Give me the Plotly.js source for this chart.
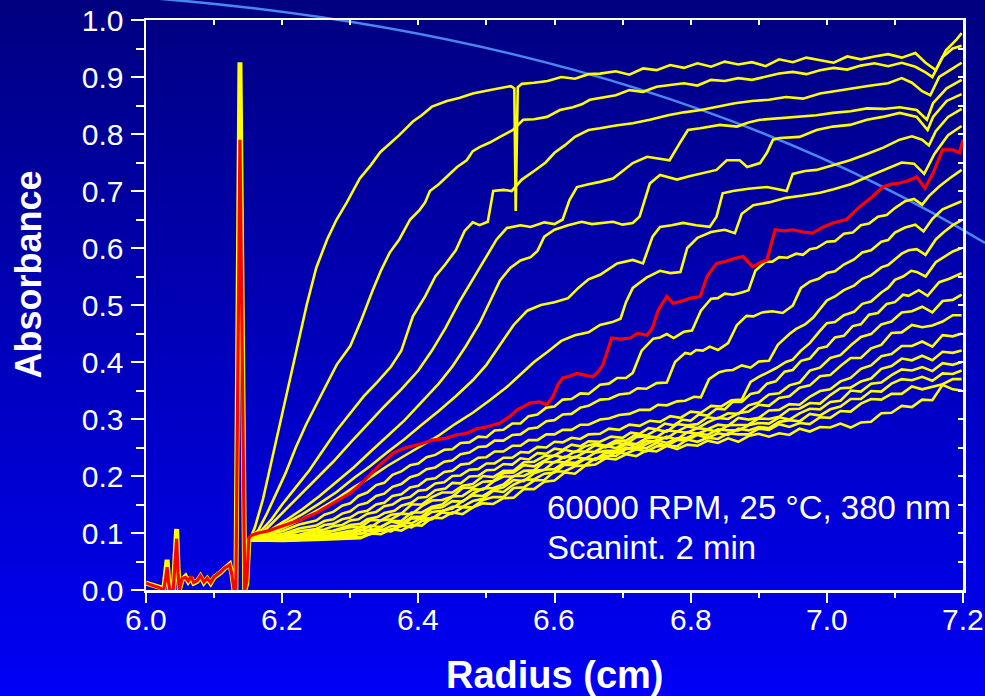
<!DOCTYPE html>
<html><head><meta charset="utf-8">
<script src="https://cdn.plot.ly/plotly-3.0.1.min.js"></script>
<style>
html,body{margin:0;padding:0;width:985px;height:696px;overflow:hidden;background:linear-gradient(to bottom,#000080 0%,#0000f6 100%);}
#wrap{position:relative;width:985px;height:696px;}
#arc{position:absolute;left:0;top:0;}
#chart{position:absolute;left:0;top:0;width:985px;height:696px;}
</style></head><body>
<div id="wrap">
<svg id="arc" width="985" height="696"><path d="M150 -2 Q642 37 985 243" stroke="#4a86f0" stroke-width="2.5" fill="none"/></svg>
<div id="chart"></div></div>
<script>
// Meniscus region (shared by all scans)
const menX = [6.000,6.006,6.012,6.018,6.022,6.026,6.029,6.031,6.033,6.035,6.040,6.043,6.045,6.047,6.049,6.053,6.058,6.062,6.066,6.070,6.075,6.080,6.085,6.090,6.095,6.100,6.105,6.110,6.115,6.119,6.123,6.126,6.129,6.132,6.138,6.145,6.148,6.151,6.153];
const menYellow = [0.012,0.010,0.008,0.006,0.004,0.000,0.030,0.053,0.020,0.000,0.000,0.060,0.107,0.040,0.000,0.018,0.024,0.015,0.022,0.012,0.015,0.024,0.013,0.020,0.012,0.022,0.026,0.031,0.037,0.040,0.045,0.030,0.002,0.000,0.926,0.000,0.010,0.085,0.090];
const menRed = [0.012,0.009,0.007,0.005,0.003,0.000,0.022,0.040,0.015,0.000,0.000,0.050,0.090,0.030,0.000,0.020,0.022,0.016,0.024,0.013,0.016,0.025,0.014,0.021,0.013,0.023,0.027,0.032,0.038,0.041,0.044,0.028,0.002,0.000,0.790,0.000,0.015,0.090,0.095];

// Early scans (radius cm, absorbance)
const scan01 = [[6.153,0.090],[6.160,0.110],[6.172,0.160],[6.185,0.230],[6.197,0.290],[6.210,0.360],[6.222,0.425],[6.236,0.500],[6.250,0.565],[6.266,0.615],[6.280,0.650],[6.295,0.680],[6.314,0.722],[6.330,0.745],[6.344,0.768],[6.360,0.785],[6.372,0.798],[6.392,0.822],[6.405,0.833],[6.420,0.848],[6.442,0.858],[6.460,0.863],[6.480,0.871],[6.500,0.876],[6.520,0.880],[6.536,0.884],[6.541,0.880],[6.543,0.665],[6.546,0.882],[6.552,0.888],[6.570,0.890],[6.590,0.893],[6.610,0.900],[6.630,0.897],[6.650,0.905],[6.667,0.906],[6.690,0.910],[6.710,0.904],[6.730,0.915],[6.750,0.912],[6.770,0.921],[6.790,0.916],[6.810,0.924],[6.830,0.918],[6.850,0.927],[6.870,0.922],[6.890,0.926],[6.910,0.919],[6.930,0.931],[6.950,0.926],[6.970,0.934],[6.990,0.929],[7.010,0.925],[7.030,0.936],[7.050,0.931],[7.070,0.936],[7.090,0.940],[7.110,0.934],[7.130,0.942],[7.145,0.925],[7.160,0.912],[7.175,0.947],[7.190,0.965],[7.198,0.977]];
const scan02 = [[6.153,0.090],[6.165,0.105],[6.178,0.135],[6.190,0.165],[6.205,0.205],[6.220,0.250],[6.235,0.290],[6.250,0.325],[6.265,0.360],[6.280,0.395],[6.300,0.428],[6.315,0.470],[6.333,0.526],[6.345,0.560],[6.358,0.592],[6.372,0.615],[6.388,0.650],[6.402,0.667],[6.410,0.680],[6.417,0.700],[6.430,0.712],[6.442,0.725],[6.457,0.742],[6.471,0.754],[6.480,0.770],[6.490,0.777],[6.505,0.785],[6.520,0.795],[6.539,0.807],[6.554,0.825],[6.570,0.826],[6.589,0.830],[6.608,0.842],[6.627,0.847],[6.640,0.852],[6.652,0.860],[6.667,0.863],[6.690,0.868],[6.710,0.877],[6.730,0.874],[6.750,0.883],[6.770,0.886],[6.790,0.889],[6.810,0.885],[6.830,0.895],[6.850,0.893],[6.870,0.898],[6.890,0.895],[6.910,0.900],[6.930,0.906],[6.950,0.909],[6.970,0.905],[6.990,0.912],[7.010,0.916],[7.030,0.913],[7.050,0.920],[7.070,0.924],[7.090,0.919],[7.110,0.925],[7.130,0.918],[7.145,0.908],[7.155,0.900],[7.170,0.935],[7.185,0.950],[7.198,0.955]];
const scan03 = [[6.153,0.090],[6.170,0.105],[6.185,0.125],[6.200,0.150],[6.220,0.180],[6.240,0.210],[6.260,0.245],[6.280,0.280],[6.300,0.310],[6.320,0.340],[6.340,0.365],[6.360,0.392],[6.375,0.420],[6.392,0.480],[6.410,0.515],[6.425,0.550],[6.440,0.572],[6.455,0.596],[6.468,0.630],[6.480,0.645],[6.490,0.640],[6.502,0.646],[6.510,0.700],[6.525,0.702],[6.537,0.700],[6.552,0.720],[6.570,0.735],[6.587,0.750],[6.600,0.767],[6.615,0.780],[6.630,0.795],[6.650,0.807],[6.667,0.810],[6.690,0.815],[6.715,0.819],[6.740,0.825],[6.767,0.833],[6.790,0.838],[6.815,0.842],[6.840,0.848],[6.865,0.854],[6.890,0.858],[6.915,0.860],[6.940,0.865],[6.965,0.862],[6.990,0.871],[7.015,0.876],[7.040,0.880],[7.065,0.885],[7.090,0.889],[7.110,0.898],[7.125,0.890],[7.140,0.875],[7.152,0.868],[7.165,0.900],[7.185,0.915],[7.198,0.925]];
const scan04 = [[6.153,0.090],[6.175,0.105],[6.200,0.135],[6.225,0.165],[6.250,0.195],[6.275,0.225],[6.300,0.258],[6.325,0.290],[6.350,0.322],[6.375,0.352],[6.400,0.385],[6.420,0.420],[6.440,0.460],[6.460,0.505],[6.480,0.545],[6.500,0.585],[6.515,0.615],[6.530,0.635],[6.550,0.640],[6.565,0.637],[6.585,0.645],[6.600,0.642],[6.612,0.650],[6.622,0.684],[6.633,0.707],[6.650,0.712],[6.667,0.716],[6.686,0.722],[6.700,0.735],[6.715,0.749],[6.736,0.760],[6.752,0.757],[6.769,0.754],[6.784,0.784],[6.796,0.807],[6.814,0.810],[6.843,0.816],[6.868,0.813],[6.885,0.820],[6.902,0.825],[6.931,0.828],[6.960,0.830],[6.985,0.833],[7.009,0.837],[7.035,0.840],[7.059,0.845],[7.083,0.844],[7.107,0.847],[7.132,0.842],[7.147,0.825],[7.156,0.854],[7.176,0.880],[7.198,0.895]];
const scan05 = [[6.153,0.090],[6.180,0.103],[6.205,0.122],[6.230,0.142],[6.255,0.165],[6.280,0.190],[6.305,0.215],[6.330,0.243],[6.355,0.270],[6.380,0.298],[6.405,0.330],[6.430,0.362],[6.450,0.392],[6.470,0.428],[6.490,0.468],[6.505,0.505],[6.520,0.543],[6.535,0.565],[6.550,0.578],[6.565,0.584],[6.575,0.595],[6.585,0.620],[6.600,0.632],[6.620,0.640],[6.640,0.646],[6.655,0.642],[6.667,0.644],[6.686,0.646],[6.700,0.641],[6.715,0.644],[6.725,0.655],[6.736,0.700],[6.740,0.713],[6.755,0.728],[6.768,0.724],[6.780,0.720],[6.798,0.726],[6.814,0.730],[6.838,0.737],[6.853,0.754],[6.872,0.754],[6.883,0.742],[6.902,0.749],[6.912,0.767],[6.921,0.790],[6.931,0.793],[6.960,0.795],[6.985,0.807],[7.009,0.813],[7.034,0.816],[7.059,0.825],[7.082,0.830],[7.107,0.837],[7.132,0.830],[7.148,0.807],[7.156,0.830],[7.176,0.858],[7.198,0.870]];
const scan06 = [[6.153,0.090],[6.180,0.100],[6.205,0.117],[6.230,0.133],[6.255,0.152],[6.280,0.172],[6.305,0.196],[6.330,0.218],[6.355,0.242],[6.380,0.265],[6.405,0.290],[6.430,0.314],[6.455,0.340],[6.480,0.368],[6.500,0.395],[6.520,0.430],[6.540,0.465],[6.560,0.490],[6.580,0.500],[6.600,0.505],[6.620,0.512],[6.635,0.530],[6.650,0.545],[6.667,0.553],[6.692,0.573],[6.715,0.579],[6.730,0.573],[6.744,0.620],[6.755,0.637],[6.772,0.640],[6.789,0.644],[6.808,0.640],[6.828,0.637],[6.838,0.655],[6.847,0.696],[6.862,0.700],[6.885,0.704],[6.912,0.707],[6.930,0.702],[6.941,0.700],[6.950,0.730],[6.968,0.735],[6.985,0.737],[7.009,0.745],[7.034,0.754],[7.059,0.765],[7.083,0.776],[7.107,0.790],[7.125,0.796],[7.140,0.790],[7.150,0.780],[7.160,0.805],[7.178,0.830],[7.198,0.844]];
const scan07 = [[6.153,0.090],[6.180,0.098],[6.205,0.111],[6.230,0.125],[6.255,0.142],[6.280,0.160],[6.305,0.180],[6.330,0.198],[6.355,0.218],[6.380,0.236],[6.405,0.253],[6.430,0.271],[6.455,0.292],[6.480,0.311],[6.505,0.333],[6.530,0.356],[6.550,0.378],[6.570,0.400],[6.590,0.418],[6.610,0.437],[6.630,0.447],[6.650,0.452],[6.667,0.465],[6.685,0.470],[6.697,0.476],[6.705,0.505],[6.715,0.530],[6.735,0.548],[6.755,0.560],[6.770,0.556],[6.785,0.558],[6.795,0.600],[6.810,0.618],[6.830,0.628],[6.850,0.632],[6.865,0.626],[6.875,0.660],[6.892,0.675],[6.915,0.680],[6.940,0.688],[6.965,0.692],[6.990,0.697],[7.010,0.703],[7.035,0.712],[7.060,0.725],[7.085,0.738],[7.110,0.750],[7.128,0.748],[7.143,0.730],[7.158,0.765],[7.178,0.798],[7.198,0.814]];
const scanRed = [[6.153,0.095],[6.165,0.100],[6.180,0.104],[6.200,0.112],[6.226,0.123],[6.250,0.135],[6.275,0.152],[6.300,0.170],[6.312,0.182],[6.325,0.198],[6.344,0.220],[6.363,0.240],[6.380,0.249],[6.400,0.255],[6.421,0.263],[6.440,0.266],[6.455,0.272],[6.471,0.275],[6.486,0.283],[6.500,0.286],[6.520,0.293],[6.535,0.305],[6.545,0.316],[6.555,0.322],[6.564,0.328],[6.578,0.330],[6.589,0.325],[6.598,0.340],[6.605,0.360],[6.612,0.372],[6.622,0.375],[6.633,0.380],[6.645,0.377],[6.656,0.374],[6.665,0.384],[6.671,0.395],[6.678,0.420],[6.684,0.442],[6.697,0.440],[6.711,0.442],[6.722,0.450],[6.736,0.447],[6.744,0.460],[6.752,0.490],[6.765,0.515],[6.774,0.503],[6.785,0.506],[6.800,0.512],[6.814,0.515],[6.824,0.550],[6.838,0.573],[6.850,0.576],[6.865,0.582],[6.877,0.585],[6.891,0.567],[6.903,0.575],[6.912,0.579],[6.924,0.632],[6.937,0.630],[6.950,0.632],[6.965,0.628],[6.979,0.626],[6.995,0.637],[7.009,0.644],[7.029,0.650],[7.048,0.672],[7.065,0.688],[7.082,0.707],[7.095,0.712],[7.107,0.714],[7.120,0.718],[7.132,0.725],[7.144,0.705],[7.156,0.731],[7.170,0.772],[7.185,0.772],[7.195,0.767],[7.200,0.790]];
const scan09 = [[6.153,0.090],[6.175,0.097],[6.200,0.103],[6.225,0.115],[6.250,0.122],[6.262,0.132],[6.275,0.137],[6.288,0.148],[6.300,0.152],[6.312,0.165],[6.325,0.171],[6.338,0.184],[6.350,0.188],[6.362,0.202],[6.375,0.208],[6.388,0.219],[6.400,0.222],[6.412,0.233],[6.425,0.237],[6.438,0.246],[6.450,0.247],[6.462,0.258],[6.475,0.259],[6.488,0.269],[6.500,0.268],[6.512,0.280],[6.525,0.281],[6.538,0.292],[6.550,0.292],[6.562,0.305],[6.575,0.308],[6.588,0.320],[6.600,0.322],[6.612,0.334],[6.625,0.335],[6.638,0.345],[6.650,0.344],[6.667,0.360],[6.680,0.362],[6.692,0.372],[6.705,0.372],[6.715,0.381],[6.728,0.420],[6.745,0.441],[6.755,0.443],[6.765,0.449],[6.775,0.442],[6.790,0.453],[6.802,0.455],[6.815,0.490],[6.830,0.511],[6.840,0.512],[6.850,0.520],[6.862,0.518],[6.875,0.522],[6.885,0.526],[6.895,0.560],[6.910,0.576],[6.920,0.576],[6.930,0.584],[6.942,0.583],[6.955,0.590],[6.965,0.588],[6.975,0.598],[6.985,0.600],[7.000,0.611],[7.012,0.612],[7.025,0.625],[7.038,0.627],[7.050,0.640],[7.062,0.643],[7.075,0.655],[7.088,0.658],[7.100,0.670],[7.115,0.682],[7.128,0.686],[7.140,0.676],[7.150,0.691],[7.165,0.708],[7.180,0.722],[7.198,0.737]];
const scan10 = [[6.153,0.089],[6.175,0.094],[6.200,0.098],[6.225,0.108],[6.250,0.113],[6.262,0.121],[6.275,0.124],[6.288,0.134],[6.300,0.138],[6.312,0.149],[6.325,0.153],[6.338,0.165],[6.350,0.169],[6.362,0.181],[6.375,0.186],[6.388,0.198],[6.400,0.202],[6.412,0.212],[6.425,0.215],[6.438,0.225],[6.450,0.227],[6.462,0.238],[6.475,0.241],[6.488,0.251],[6.500,0.252],[6.512,0.262],[6.525,0.262],[6.538,0.272],[6.550,0.273],[6.562,0.283],[6.575,0.285],[6.588,0.296],[6.600,0.298],[6.612,0.308],[6.625,0.309],[6.638,0.320],[6.650,0.323],[6.667,0.334],[6.680,0.335],[6.695,0.343],[6.710,0.345],[6.722,0.354],[6.735,0.353],[6.750,0.363],[6.765,0.364],[6.777,0.400],[6.792,0.416],[6.800,0.414],[6.808,0.421],[6.818,0.420],[6.828,0.427],[6.840,0.421],[6.855,0.433],[6.868,0.465],[6.882,0.481],[6.892,0.480],[6.905,0.487],[6.920,0.489],[6.935,0.486],[6.950,0.499],[6.962,0.530],[6.975,0.541],[6.988,0.546],[7.000,0.556],[7.012,0.559],[7.025,0.571],[7.040,0.580],[7.052,0.592],[7.065,0.596],[7.080,0.611],[7.090,0.614],[7.100,0.627],[7.115,0.636],[7.130,0.641],[7.142,0.629],[7.155,0.651],[7.170,0.668],[7.185,0.676],[7.198,0.682]];
const scan11 = [[6.153,0.089],[6.175,0.092],[6.200,0.095],[6.225,0.103],[6.250,0.107],[6.262,0.114],[6.275,0.116],[6.288,0.124],[6.300,0.127],[6.312,0.136],[6.325,0.139],[6.338,0.150],[6.350,0.153],[6.362,0.165],[6.375,0.168],[6.388,0.180],[6.400,0.183],[6.412,0.194],[6.425,0.196],[6.438,0.207],[6.450,0.209],[6.462,0.220],[6.475,0.222],[6.488,0.232],[6.500,0.233],[6.512,0.243],[6.525,0.243],[6.538,0.253],[6.550,0.253],[6.562,0.263],[6.575,0.263],[6.588,0.273],[6.600,0.273],[6.612,0.281],[6.625,0.281],[6.638,0.290],[6.650,0.290],[6.667,0.299],[6.680,0.301],[6.695,0.307],[6.710,0.309],[6.725,0.316],[6.740,0.316],[6.752,0.325],[6.765,0.324],[6.780,0.331],[6.792,0.332],[6.805,0.339],[6.815,0.338],[6.827,0.370],[6.842,0.382],[6.852,0.385],[6.862,0.386],[6.875,0.394],[6.888,0.390],[6.900,0.401],[6.915,0.402],[6.928,0.430],[6.945,0.449],[6.955,0.458],[6.968,0.466],[6.980,0.478],[6.990,0.492],[7.000,0.508],[7.012,0.515],[7.025,0.526],[7.040,0.534],[7.052,0.546],[7.065,0.552],[7.080,0.566],[7.090,0.570],[7.100,0.580],[7.110,0.590],[7.120,0.596],[7.132,0.598],[7.145,0.588],[7.160,0.615],[7.172,0.628],[7.185,0.640],[7.198,0.649]];
const scan12 = [[6.153,0.088],[6.175,0.090],[6.200,0.095],[6.225,0.097],[6.250,0.105],[6.262,0.106],[6.275,0.112],[6.288,0.114],[6.300,0.122],[6.312,0.124],[6.325,0.134],[6.338,0.137],[6.350,0.147],[6.362,0.150],[6.375,0.160],[6.388,0.163],[6.400,0.174],[6.412,0.176],[6.425,0.187],[6.438,0.189],[6.450,0.200],[6.462,0.201],[6.475,0.211],[6.488,0.212],[6.500,0.222],[6.512,0.222],[6.525,0.232],[6.538,0.232],[6.550,0.242],[6.562,0.241],[6.575,0.251],[6.588,0.250],[6.600,0.260],[6.612,0.259],[6.625,0.267],[6.638,0.265],[6.650,0.273],[6.667,0.274],[6.680,0.283],[6.695,0.281],[6.710,0.290],[6.725,0.288],[6.740,0.297],[6.755,0.295],[6.770,0.305],[6.785,0.302],[6.800,0.313],[6.815,0.311],[6.830,0.323],[6.845,0.322],[6.860,0.333],[6.875,0.334],[6.888,0.365],[6.900,0.374],[6.912,0.381],[6.925,0.389],[6.940,0.400],[6.950,0.404],[6.962,0.420],[6.975,0.433],[6.988,0.452],[7.000,0.468],[7.012,0.470],[7.025,0.482],[7.040,0.488],[7.052,0.502],[7.065,0.506],[7.080,0.522],[7.090,0.530],[7.100,0.544],[7.112,0.550],[7.124,0.560],[7.132,0.558],[7.145,0.550],[7.160,0.575],[7.172,0.584],[7.185,0.594],[7.198,0.600]];
const scan13 = [[6.153,0.088],[6.175,0.089],[6.200,0.093],[6.225,0.094],[6.250,0.101],[6.275,0.104],[6.300,0.114],[6.315,0.116],[6.325,0.124],[6.340,0.128],[6.350,0.135],[6.365,0.139],[6.375,0.148],[6.390,0.153],[6.400,0.162],[6.412,0.163],[6.425,0.175],[6.440,0.178],[6.450,0.188],[6.462,0.187],[6.475,0.199],[6.488,0.200],[6.500,0.210],[6.512,0.211],[6.525,0.221],[6.538,0.220],[6.550,0.231],[6.562,0.229],[6.575,0.240],[6.588,0.239],[6.600,0.248],[6.612,0.246],[6.625,0.255],[6.638,0.252],[6.650,0.261],[6.667,0.260],[6.683,0.269],[6.700,0.267],[6.712,0.276],[6.725,0.274],[6.738,0.284],[6.750,0.282],[6.762,0.292],[6.775,0.289],[6.788,0.299],[6.800,0.297],[6.812,0.308],[6.825,0.306],[6.838,0.318],[6.850,0.317],[6.862,0.330],[6.875,0.330],[6.888,0.344],[6.900,0.347],[6.912,0.362],[6.925,0.366],[6.938,0.383],[6.950,0.386],[6.962,0.402],[6.975,0.406],[6.988,0.424],[7.000,0.427],[7.012,0.443],[7.025,0.446],[7.038,0.463],[7.050,0.466],[7.062,0.483],[7.075,0.486],[7.088,0.502],[7.100,0.505],[7.112,0.518],[7.120,0.516],[7.135,0.526],[7.148,0.516],[7.165,0.540],[7.180,0.546],[7.198,0.556]];

// Late scans on a common radius grid
const gridR = [6.153,6.2,6.25,6.3,6.315,6.33,6.345,6.36,6.375,6.39,6.405,6.42,6.435,6.45,6.465,6.48,6.495,6.51,6.525,6.54,6.555,6.57,6.585,6.6,6.615,6.63,6.645,6.66,6.675,6.69,6.705,6.72,6.735,6.75,6.765,6.78,6.795,6.81,6.825,6.84,6.855,6.87,6.885,6.9,6.915,6.93,6.945,6.96,6.975,6.99,7.005,7.02,7.035,7.05,7.065,7.08,7.095,7.11,7.125,7.14,7.155,7.17,7.185,7.198];
const scan14 = [.088,.091,.097,.110,.110,.123,.122,.132,.134,.150,.150,.163,.171,.171,.183,.186,.200,.198,.209,.209,.224,.225,.235,.236,.246,.242,.252,.257,.253,.262,.262,.273,.271,.281,.278,.291,.289,.291,.303,.301,.310,.309,.324,.329,.343,.345,.359,.364,.385,.390,.407,.412,.429,.444,.449,.466,.471,.487,.489,.497,.487,.507,.509,.518];
const scan15 = [.088,.090,.095,.101,.111,.110,.122,.124,.134,.133,.147,.157,.158,.164,.179,.180,.190,.191,.205,.206,.219,.217,.227,.236,.232,.243,.243,.254,.250,.258,.256,.268,.270,.268,.280,.278,.287,.284,.294,.302,.300,.310,.313,.325,.323,.337,.340,.355,.359,.375,.377,.393,.407,.407,.424,.430,.451,.452,.465,.461,.464,.471,.482,.482];
const scan16 = [.087,.089,.093,.104,.104,.113,.110,.121,.121,.136,.136,.146,.150,.164,.165,.177,.176,.190,.199,.199,.209,.210,.225,.224,.234,.232,.242,.243,.253,.249,.258,.256,.266,.268,.266,.278,.276,.284,.282,.290,.288,.302,.299,.302,.315,.316,.326,.325,.339,.349,.352,.366,.372,.388,.394,.410,.414,.428,.428,.436,.427,.447,.445,.450];
const scan17 = [.087,.088,.092,.096,.106,.103,.111,.120,.116,.128,.129,.143,.145,.156,.155,.169,.178,.179,.185,.200,.200,.209,.211,.225,.224,.234,.230,.241,.244,.244,.256,.251,.261,.261,.269,.264,.277,.274,.281,.278,.289,.290,.290,.301,.300,.304,.317,.318,.328,.327,.342,.354,.355,.366,.371,.388,.393,.406,.403,.411,.403,.418,.416,.420];
const scan18 = [.087,.088,.091,.099,.098,.107,.104,.112,.112,.126,.125,.137,.139,.143,.156,.166,.165,.176,.180,.193,.191,.205,.211,.212,.224,.223,.231,.229,.241,.241,.250,.247,.256,.263,.258,.266,.267,.275,.272,.282,.280,.280,.289,.293,.292,.303,.299,.310,.318,.317,.330,.332,.350,.348,.362,.364,.377,.387,.385,.391,.384,.398,.395,.400];
const scan19 = [.087,.087,.090,.093,.100,.098,.106,.104,.117,.117,.126,.125,.138,.146,.146,.156,.160,.174,.172,.185,.193,.194,.204,.206,.220,.219,.230,.228,.236,.235,.247,.250,.249,.258,.253,.263,.263,.272,.267,.275,.272,.283,.280,.286,.284,.295,.298,.296,.309,.306,.317,.322,.335,.335,.349,.348,.362,.370,.368,.374,.367,.380,.379,.385];
const scan20 = [.087,.087,.089,.094,.092,.099,.105,.103,.113,.110,.121,.124,.136,.134,.145,.145,.158,.163,.163,.179,.180,.192,.193,.208,.208,.217,.219,.231,.231,.242,.239,.247,.243,.252,.253,.252,.264,.260,.267,.265,.275,.273,.273,.283,.281,.291,.286,.293,.291,.303,.302,.314,.313,.327,.335,.334,.344,.344,.357,.352,.356,.361,.370,.370];
const scan21 = [.087,.086,.088,.090,.091,.099,.098,.107,.104,.114,.113,.127,.126,.136,.133,.145,.152,.151,.161,.162,.177,.177,.190,.192,.206,.204,.218,.220,.231,.229,.238,.235,.245,.243,.253,.247,.255,.253,.262,.258,.266,.260,.270,.274,.269,.275,.272,.283,.278,.286,.285,.292,.285,.294,.295,.310,.311,.323,.321,.334,.333,.360,.352,.350];

const xTickVals = [6.0,6.2,6.4,6.6,6.8,7.0,7.2];
const xTickText = ['6.0','6.2','6.4','6.6','6.8','7.0','7.2'];
const yTickVals = [0,0.1,0.2,0.3,0.4,0.5,0.6,0.7,0.8,0.9,1.0];
const yTickText = ['0.0','0.1','0.2','0.3','0.4','0.5','0.6','0.7','0.8','0.9','1.0'];
const xRange = [6.0, 7.2];

const YEL = '#ffff00', RED = '#ff0000';
const traces = [];
function addPairs(arr, color, w){
  traces.push({x: arr.map(p=>p[0]), y: arr.map(p=>p[1]), mode:'lines', line:{color:color, width:w}, hoverinfo:'skip'});
}
function addGrid(ys, color, w){
  traces.push({x: gridR, y: ys, mode:'lines', line:{color:color, width:w}, hoverinfo:'skip'});
}
[scan21,scan20,scan19,scan18,scan17,scan16,scan15,scan14].forEach(s=>addGrid(s, YEL, 2.6));
[scan13,scan12,scan11,scan10,scan09,scan07,scan06,scan05,scan04,scan03,scan02,scan01].forEach(s=>addPairs(s, YEL, 2.6));
traces.push({x: menX, y: menYellow, mode:'lines', line:{color:YEL, width:5}, hoverinfo:'skip'});
addPairs(scanRed, RED, 3.2);
traces.push({x: menX, y: menRed, mode:'lines', line:{color:RED, width:3.2}, hoverinfo:'skip'});
// frame axes (top / right)
traces.push({x:xRange, y:[0,1], xaxis:'x2', yaxis:'y2', mode:'lines', line:{width:0, color:'rgba(0,0,0,0)'}, hoverinfo:'skip', showlegend:false});

const W = '#ffffff';
const annotations = [
  {text:'Radius (cm)', xref:'paper', yref:'paper', x:0.5, y:-0.149, xanchor:'center', yanchor:'middle', showarrow:false,
    font:{size:38, color:W, weight:'bold'}},
  {text:'Absorbance', xref:'paper', yref:'paper', x:-0.1438, y:0.5526, xanchor:'center', yanchor:'middle', textangle:-90, showarrow:false,
    font:{size:36, color:W, weight:'bold'}},
  {text:'60000 RPM, 25 °C, 380 nm', xref:'paper', yref:'paper', x:0.4884, y:0.1439, xanchor:'left', yanchor:'middle', showarrow:false,
    font:{size:33, color:W}},
  {text:'Scanint. 2 min', xref:'paper', yref:'paper', x:0.4884, y:0.0737, xanchor:'left', yanchor:'middle', showarrow:false,
    font:{size:33, color:W}}
];
// x tick labels placed just below the axis
xTickVals.forEach((v,i)=>{
  annotations.push({text:xTickText[i], xref:'paper', yref:'paper', x:(v-xRange[0])/(xRange[1]-xRange[0]), y:-0.0526,
    xanchor:'center', yanchor:'middle', showarrow:false, font:{size:30, color:W}});
});

const layout = {
  width:985, height:696,
  margin:{l:146, r:22, t:20, b:106},
  paper_bgcolor:'rgba(0,0,0,0)', plot_bgcolor:'rgba(0,0,0,0)',
  showlegend:false,
  font:{family:'"Liberation Sans", Arial, sans-serif', color:W},
  xaxis:{range:xRange, tickmode:'array', tickvals:xTickVals, ticktext:xTickText, showticklabels:false,
    ticks:'outside', ticklen:10, tickwidth:2, tickcolor:W,
    showline:true, linecolor:W, linewidth:2.5, showgrid:false, zeroline:false,
    minor:{dtick:0.1, tick0:6.0, ticks:'outside', ticklen:5, tickwidth:2, tickcolor:W, showgrid:false}},
  yaxis:{range:[0,1], tickmode:'array', tickvals:yTickVals, ticktext:yTickText,
    ticks:'outside', ticklen:13, tickwidth:2, tickcolor:W,
    showline:true, linecolor:W, linewidth:2.5, showgrid:false, zeroline:false,
    tickfont:{size:30, color:W}, ticklabelstandoff:1,
    minor:{dtick:0.05, tick0:0, ticks:'outside', ticklen:8, tickwidth:2, tickcolor:W, showgrid:false}},
  xaxis2:{overlaying:'x', side:'top', anchor:'y2', range:xRange, tickmode:'linear', tick0:6.0, dtick:0.1,
    ticks:'inside', ticklen:5, tickwidth:2, tickcolor:W, showticklabels:false,
    showline:true, linecolor:W, linewidth:2.5, showgrid:false, zeroline:false},
  yaxis2:{overlaying:'y', side:'right', anchor:'x2', range:[0,1], tickmode:'linear', tick0:0, dtick:0.05,
    ticks:'inside', ticklen:5, tickwidth:2, tickcolor:W, showticklabels:false,
    showline:true, linecolor:W, linewidth:2.5, showgrid:false, zeroline:false},
  annotations:annotations
};
Plotly.newPlot('chart', traces, layout, {staticPlot:true, displayModeBar:false});
</script>
</body></html>
